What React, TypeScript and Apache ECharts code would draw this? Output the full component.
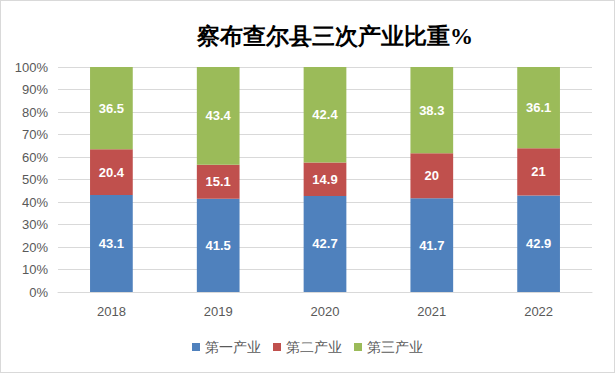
import React, { useEffect, useRef } from "react";
import * as echarts from "echarts";

const years = ["2018", "2019", "2020", "2021", "2022"];
const primary = [43.1, 41.5, 42.7, 41.7, 42.9];
const secondary = [20.4, 15.1, 14.9, 20, 21];
const tertiary = [36.5, 43.4, 42.4, 38.3, 36.1];
const seriesNames = ["第一产业", "第二产业", "第三产业"];
const colors = ["#4F81BD", "#C0504D", "#9BBB59"];

export default function App() {
  const ref = useRef<HTMLDivElement>(null);
  useEffect(() => {
    document.body.style.margin = "0";
    const chart = echarts.init(ref.current!, null, { renderer: "svg" });
    const data = [primary, secondary, tertiary];
    chart.setOption({
      animation: false,
      backgroundColor: "#fff",
      title: {
        text: "察布查尔县三次产业比重%",
        left: 329,
        textAlign: "center",
        top: 19,
        textStyle: { fontFamily: "serif", fontSize: 23, fontWeight: "bold", color: "#000" },
      },
      legend: {
        bottom: 13,
        left: "center",
        itemWidth: 8,
        itemHeight: 8,
        itemGap: 12,
        icon: "rect",
        textStyle: { color: "#595959", fontSize: 14, padding: [0, 0, 0, 0] },
        data: seriesNames,
      },
      grid: { left: 57, right: 22, top: 66, bottom: 80 },
      xAxis: {
        type: "category",
        data: years,
        axisLine: { lineStyle: { color: "#D9D9D9" } },
        axisTick: { show: false },
        axisLabel: { color: "#595959", fontSize: 13, margin: 13 },
      },
      yAxis: {
        type: "value",
        min: 0,
        max: 100,
        interval: 10,
        axisLabel: { formatter: "{value}%", color: "#595959", fontSize: 13, margin: 10 },
        axisLine: { show: false },
        axisTick: { show: false },
        splitLine: { lineStyle: { color: "#D9D9D9" } },
      },
      series: seriesNames.map((name, i) => ({
        name,
        type: "bar",
        stack: "total",
        barWidth: "40%",
        itemStyle: { color: colors[i] },
        label: {
          show: true,
          position: "inside",
          color: "#fff",
          fontSize: 13,
          fontWeight: "bold",
        },
        data: data[i],
      })),
    });
    return () => chart.dispose();
  }, []);
  return (
    <div
      style={{
        width: 615,
        height: 373,
        boxSizing: "border-box",
        border: "1px solid #D9D9D9",
        position: "relative",
      }}
    >
      <div ref={ref} style={{ width: 613, height: 371 }} />
    </div>
  );
}
